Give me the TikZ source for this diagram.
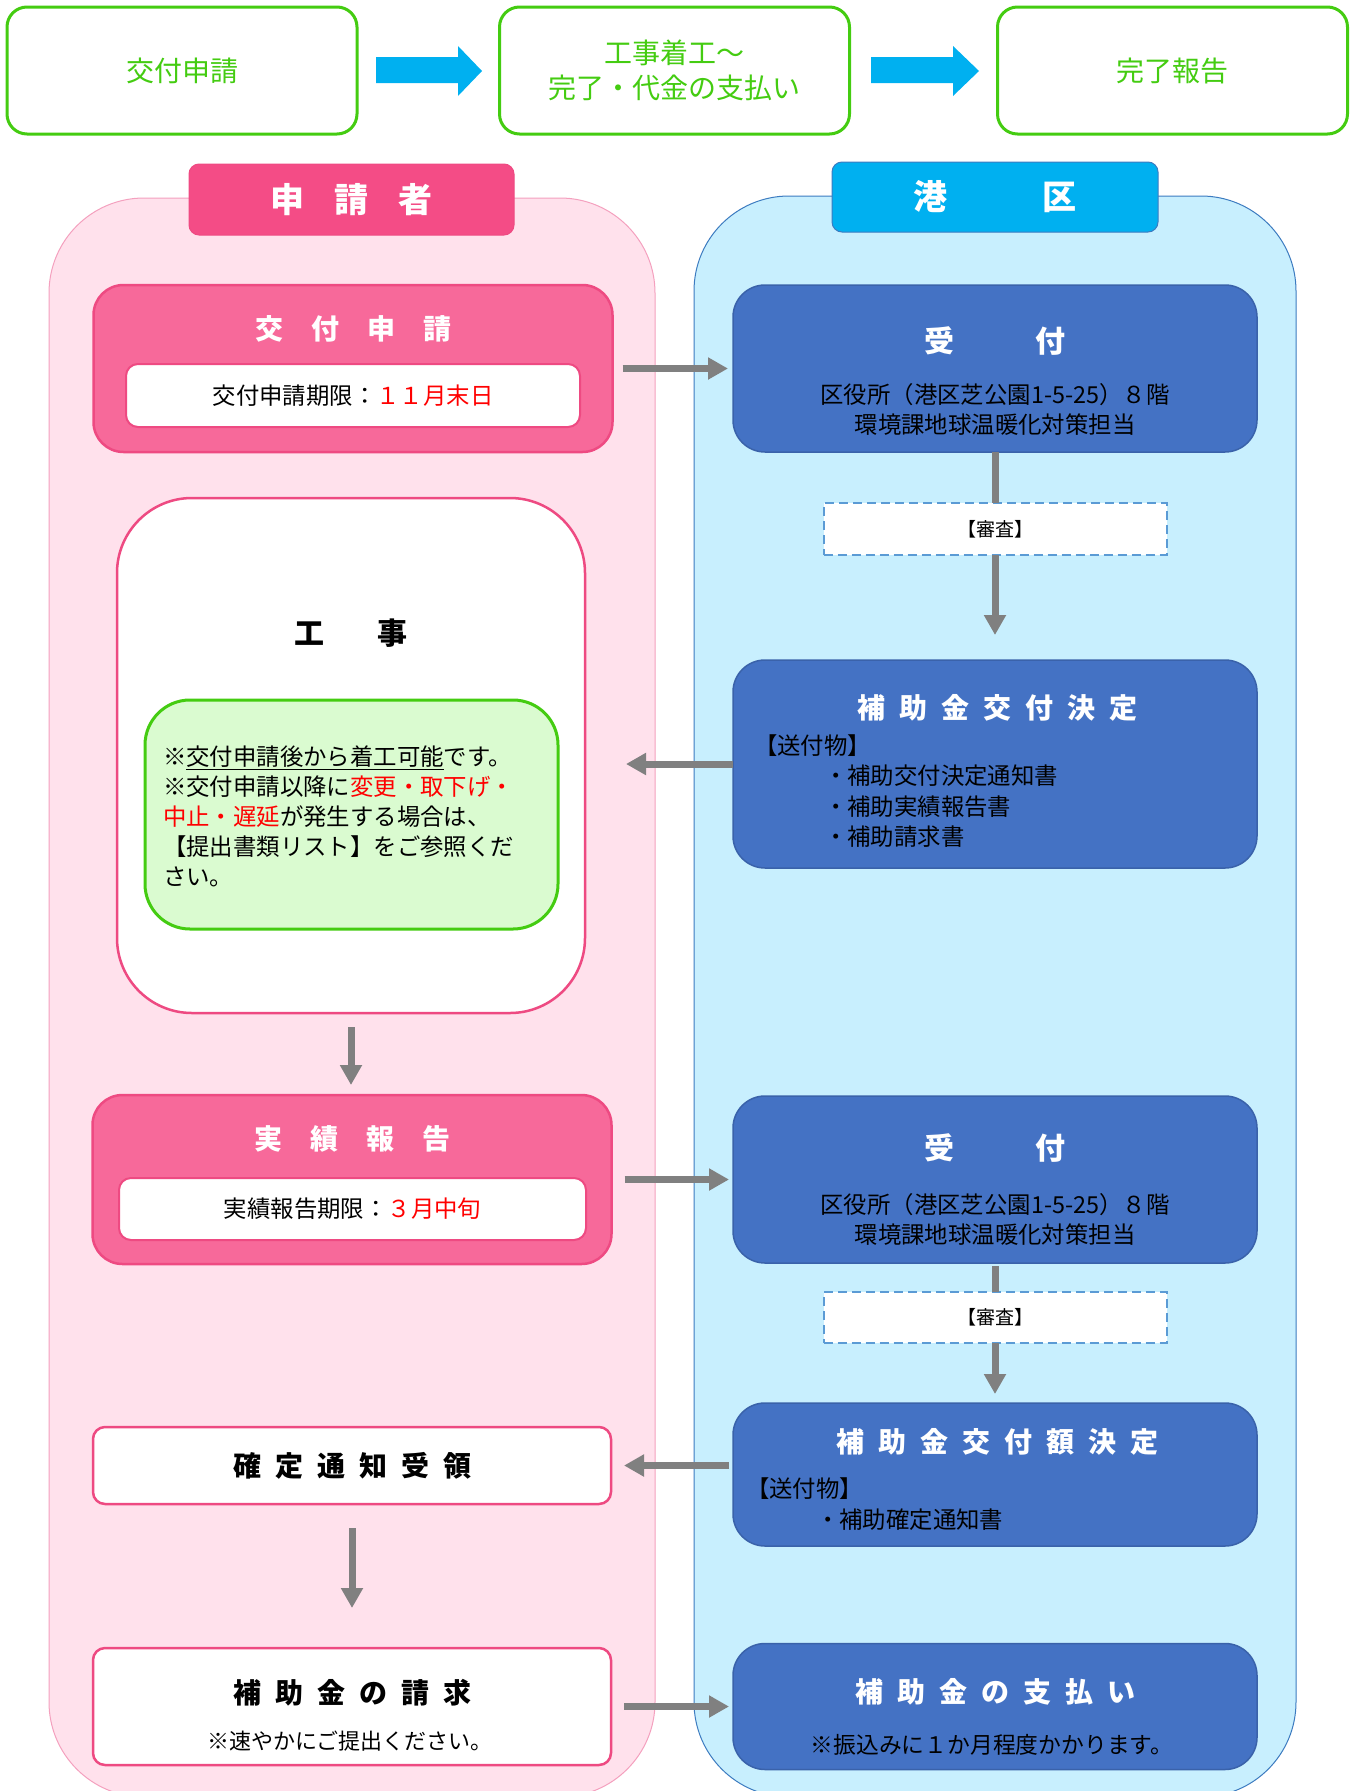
\documentclass[tikz,border=0pt]{standalone}
\usepackage{fontspec}
\setmainfont{Noto Sans CJK JP}
\usetikzlibrary{arrows.meta}
\definecolor{grn}{HTML}{44CC11}
\definecolor{skyb}{HTML}{00B0F0}
\definecolor{pinkhd}{HTML}{F44C86}
\definecolor{pinkfill}{HTML}{F7699A}
\definecolor{pinkedge}{HTML}{EE4A82}
\definecolor{pinkbg}{HTML}{FFE1EC}
\definecolor{pinkbgedge}{HTML}{F4A0BE}
\definecolor{bluebg}{HTML}{C8EFFE}
\definecolor{bluebgedge}{HTML}{3C7BC0}
\definecolor{boxblue}{HTML}{4472C4}
\definecolor{boxblueedge}{HTML}{3A62AA}
\definecolor{dashblue}{HTML}{5B9BD5}
\definecolor{notegrn}{HTML}{DAFBD0}
\definecolor{flowgray}{HTML}{808080}
\begin{document}
\begin{tikzpicture}[x=1pt,y=-1pt,>={Triangle[length=20pt,width=21pt]},
  every node/.style={inner sep=0pt,outer sep=0pt},
  topbox/.style={draw=grn,line width=3pt,fill=white,rounded corners=20pt,minimum width=350pt,minimum height=127pt,text=grn,align=center,font=\fontsize{28}{35}\selectfont},
  pinklane/.style={draw=pinkbgedge,line width=1pt,fill=pinkbg,rounded corners=95pt},
  bluelane/.style={draw=bluebgedge,line width=1pt,fill=bluebg,rounded corners=95pt},
  pinkhead/.style={draw=pinkedge,line width=1pt,fill=pinkhd,rounded corners=10pt,minimum width=325pt,minimum height=71pt,text=white,font=\fontsize{34}{40}\selectfont\bfseries},
  bluehead/.style={draw=bluebgedge,line width=1pt,fill=skyb,rounded corners=10pt,minimum width=326pt,minimum height=70pt,text=white,font=\fontsize{34}{40}\selectfont\bfseries},
  pinkbox/.style={draw=pinkedge,line width=2.5pt,fill=pinkfill,rounded corners=30pt,minimum width=519pt},
  whitebox/.style={draw=pinkedge,line width=2pt,fill=white,rounded corners=12pt,font=\fontsize{23.4}{30}\selectfont},
  plainbox/.style={draw=pinkedge,line width=2.5pt,fill=white,rounded corners=12pt,minimum width=518pt},
  kojibox/.style={draw=pinkedge,line width=2.5pt,fill=white,rounded corners=75pt,minimum width=468pt,minimum height=515pt},
  notebox/.style={draw=grn,line width=3pt,fill=notegrn,rounded corners=45pt,minimum width=413pt,minimum height=229pt},
  bluebox/.style={draw=boxblueedge,line width=1.5pt,fill=boxblue,rounded corners=32pt,minimum width=524pt},
  dashbox/.style={draw=dashblue,line width=2pt,dash pattern=on 9pt off 5pt,fill=white,minimum width=343pt,font=\fontsize{19}{24}\selectfont},
  wtitle/.style={text=white,font=\fontsize{28}{34}\selectfont\bfseries},
  btitle/.style={text=black,font=\fontsize{28}{34}\selectfont\bfseries},
  body/.style={text=black,align=center,font=\fontsize{23.4}{30}\selectfont},
  flow/.style={draw=flowgray,line width=7pt}]
\useasboundingbox (0,0) rectangle (1359,1791);
\node[topbox] (s1) at (182,70.5) {交付申請};
\node[topbox] (s2) at (674.5,70.5) {工事着工～\\完了・代金の支払い};
\node[topbox] (s3) at (1172.5,70.5) {完了報告};
\fill[skyb] (376,57) -- (458,57) -- (458,46) -- (482,71) -- (458,96) -- (458,83) -- (376,83) -- cycle;
\fill[skyb] (871,57) -- (953,57) -- (953,46) -- (979,71) -- (953,96) -- (953,83) -- (871,83) -- cycle;
\draw[pinklane] (49,198) rectangle (655,1797);
\draw[bluelane] (694,196) rectangle (1296,1797);
\node[pinkhead] (applicant) at (351.5,199.5) {申\hspace{30pt}請\hspace{30pt}者};
\node[bluehead] (ward) at (995,197) {港\hspace{96pt}区};
\node[pinkbox,minimum height=167pt] (apply) at (353,368.5) {};
\node[wtitle] (applyt) at (353,329) {交\hspace{28pt}付\hspace{28pt}申\hspace{28pt}請};
\node[whitebox,minimum width=454pt,minimum height=63pt] (applyd) at (353,395.5) {交付申請期限：\textcolor{red}{１１月末日}};
\node[kojibox] (work) at (351,755.5) {};
\node[btitle,font=\fontsize{30}{36}\selectfont\bfseries] (workt) at (351,633) {工\hspace{53pt}事};
\node[notebox] (note) at (351.5,814.5) {};
\node[body,align=left,anchor=west] (notet) at (163,816.5) {※\underline{交付申請後から着工可能}です。\\※交付申請以降に\textcolor{red}{変更・取下げ・}\\\textcolor{red}{中止・遅延}が発生する場合は、\\【提出書類リスト】をご参照くだ\\さい。};
\node[pinkbox,minimum height=169pt] (report) at (352,1179.5) {};
\node[wtitle] (reportt) at (352,1139) {実\hspace{28pt}績\hspace{28pt}報\hspace{28pt}告};
\node[whitebox,minimum width=467pt,minimum height=62pt] (reportd) at (352.5,1209) {実績報告期限：\textcolor{red}{３月中旬}};
\node[plainbox,minimum height=77pt,btitle] (notice) at (352,1465.5) {確\hspace{14pt}定\hspace{14pt}通\hspace{14pt}知\hspace{14pt}受\hspace{14pt}領};
\node[plainbox,minimum height=117pt] (claim) at (352,1706.5) {};
\node[btitle] (claimt) at (352,1693) {補\hspace{14pt}助\hspace{14pt}金\hspace{14pt}の\hspace{14pt}請\hspace{14pt}求};
\node[body,font=\fontsize{22}{28}\selectfont] (claimd) at (350,1741) {※速やかにご提出ください。};
\node[bluebox,minimum height=167pt] (recv) at (995,368.5) {};
\node[wtitle,font=\fontsize{30}{36}\selectfont\bfseries] (recvt) at (995,341) {受\hspace{81pt}付};
\node[body] (recva) at (995,409) {区役所（港区芝公園1-5-25）８階\\環境課地球温暖化対策担当};
\node[dashbox,minimum height=52pt] (check) at (995,529) {【審査】};
\node[bluebox,minimum height=208pt] (grant) at (995,764) {};
\node[wtitle] (grantt) at (997,708) {補\hspace{14pt}助\hspace{14pt}金\hspace{14pt}交\hspace{14pt}付\hspace{14pt}決\hspace{14pt}定};
\node[body,align=left,anchor=west,font=\fontsize{23.4}{30.5}\selectfont] (grantl) at (754,791) {【送付物】\\\hspace{70pt}・補助交付決定通知書\\\hspace{70pt}・補助実績報告書\\\hspace{70pt}・補助請求書};
\node[bluebox,minimum height=167pt] (recv2) at (995,1179.5) {};
\node[wtitle,font=\fontsize{30}{36}\selectfont\bfseries] (recv2t) at (995,1148) {受\hspace{81pt}付};
\node[body] (recv2a) at (995,1219.5) {区役所（港区芝公園1-5-25）８階\\環境課地球温暖化対策担当};
\node[dashbox,minimum height=51pt] (check2) at (995,1317.5) {【審査】};
\node[bluebox,minimum height=143pt] (fix) at (995,1474.5) {};
\node[wtitle] (fixt) at (997,1442) {補\hspace{14pt}助\hspace{14pt}金\hspace{14pt}交\hspace{14pt}付\hspace{14pt}額\hspace{14pt}決\hspace{14pt}定};
\node[body,align=left,anchor=west,font=\fontsize{23.4}{31}\selectfont] (fixl) at (746,1504.5) {【送付物】\\\hspace{70pt}・補助確定通知書};
\node[bluebox,minimum height=126pt] (pay) at (995,1706.5) {};
\node[wtitle] (payt) at (995,1692) {補\hspace{14pt}助\hspace{14pt}金\hspace{14pt}の\hspace{14pt}支\hspace{14pt}払\hspace{14pt}い};
\node[body,font=\fontsize{22.8}{28}\selectfont] (payd) at (992,1745) {※振込みに１か月程度かかります。};
\draw[flow,->,shorten <=10pt,shorten >=5pt] (apply.east) -- (recv.west);
\draw[flow] (recv.south) -- (check.north);
\draw[flow,->,shorten >=25pt] (check.south) -- (grant.north);
\draw[flow,->,shorten >=41pt] (grant.west) -- (grant.west -| work.east);
\draw[flow,->,shorten <=14pt,shorten >=10pt] (work.south) -- (work.south |- report.north);
\draw[flow,->,shorten <=13pt,shorten >=4pt] (report.east) -- (recv2.west);
\draw[flow,shorten <=3pt] (recv2.south) -- (check2.north);
\draw[flow,->,shorten >=9pt] (check2.south) -- (fix.north);
\draw[flow,->,shorten <=4pt,shorten >=13pt] (fix.west |- notice.east) -- (notice.east);
\draw[flow,->,shorten <=24pt,shorten >=40pt] (notice.south) -- (claim.north);
\draw[flow,->,shorten <=13pt,shorten >=4pt] (claim.east) -- (pay.west);
\end{tikzpicture}
\end{document}
